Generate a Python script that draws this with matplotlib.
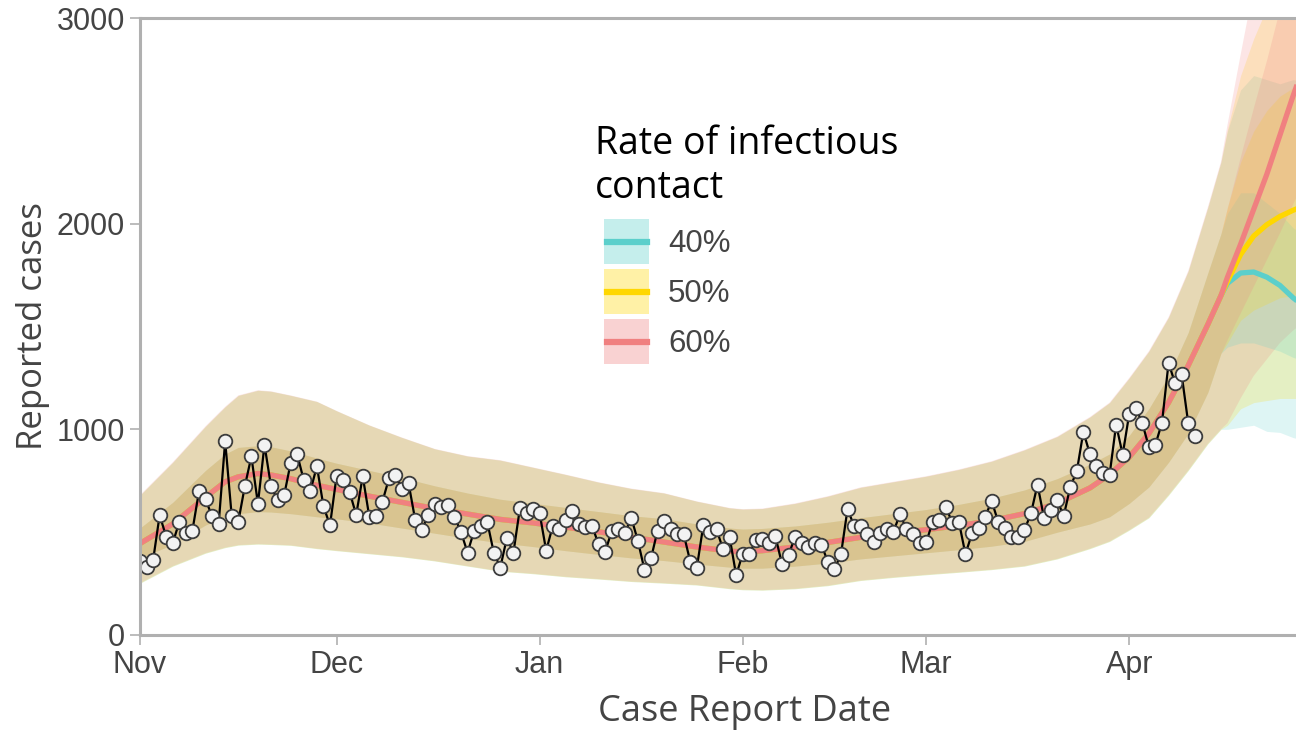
import numpy as np
import matplotlib
matplotlib.use('Agg')
import matplotlib.pyplot as plt
import matplotlib.dates as mdates
from matplotlib.patches import Rectangle
from matplotlib.lines import Line2D

plt.rcParams['font.family'] = ['Liberation Sans', 'DejaVu Sans']

# daily reported cases, starting Nov 1
start = np.datetime64('2020-11-01')
cases = [360, 332, 364, 583, 477, 447, 550, 494, 508, 698,
         659, 578, 538, 943, 578, 550, 723, 868, 638, 925,
         723, 654, 679, 837, 878, 752, 699, 821, 627, 533,
         772, 755, 695, 584, 772, 575, 579, 648, 761, 779,
         708, 737, 561, 510, 582, 636, 621, 634, 575, 500,
         401, 506, 530, 551, 401, 328, 472, 400, 618, 592,
         615, 592, 410, 530, 515, 561, 602, 542, 526, 531,
         441, 404, 505, 516, 494, 569, 458, 318, 372, 508,
         554, 515, 492, 489, 356, 328, 536, 499, 514, 417,
         476, 291, 395, 395, 461, 466, 445, 479, 344, 390,
         477, 446, 429, 448, 440, 356, 320, 392, 612, 531,
         531, 490, 450, 498, 515, 502, 587, 515, 490, 445,
         450, 550, 561, 623, 546, 550, 393, 494, 522, 574,
         652, 550, 522, 477, 477, 510, 591, 731, 568, 610,
         655, 579, 720, 796, 988, 880, 821, 788, 778, 1023,
         877, 1075, 1105, 1030, 914, 926, 1032, 1322, 1225, 1267,
         1032, 967]

# model fit (shared by all scenarios), days after Nov 1
fit_day = [0, 5, 10, 13, 15, 18, 20, 23, 27, 30, 35, 40, 45, 50, 55, 60, 65, 70, 75, 80,
           85, 90, 92, 95, 100, 105, 110, 115, 120, 125, 130, 135, 140, 145, 148, 151,
           154, 157, 160, 163, 165]
fit_med = [445, 540, 670, 745, 769, 785, 778, 760, 728, 708, 675, 645, 615, 588, 562, 545,
           524, 502, 476, 452, 428, 408, 404, 410, 428, 450, 475, 495, 512, 532, 556, 590,
           640, 715, 780, 865, 980, 1130, 1310, 1510, 1650]
fit_hi50 = [520, 645, 800, 880, 912, 920, 915, 895, 860, 835, 800, 765, 725, 690, 660, 640,
            620, 600, 580, 565, 540, 520, 515, 518, 530, 548, 570, 590, 610, 635, 665, 705,
            760, 830, 880, 970, 1100, 1260, 1470, 1760, 1950]
fit_lo50 = [375, 440, 535, 575, 590, 600, 598, 590, 575, 565, 545, 520, 495, 470, 448, 430,
            410, 392, 375, 362, 345, 330, 325, 325, 335, 350, 370, 385, 400, 415, 432, 455,
            500, 540, 575, 640, 720, 840, 980, 1180, 1370]
fit_hi95 = [680, 840, 1015, 1110, 1165, 1190, 1185, 1165, 1135, 1090, 1020, 960, 905, 870,
            850, 815, 780, 743, 712, 690, 650, 618, 612, 615, 640, 675, 718, 745, 772, 805,
            845, 900, 965, 1060, 1130, 1250, 1380, 1545, 1770, 2080, 2300]
fit_lo95 = [252, 335, 398, 425, 437, 442, 440, 436, 420, 410, 395, 380, 360, 335, 310, 298,
            283, 272, 260, 252, 243, 225, 220, 218, 225, 240, 265, 280, 293, 305, 318, 335,
            370, 420, 455, 510, 570, 680, 800, 930, 1000]

# projections by rate of infectious contact
proj_day = [166, 168, 170, 172, 174, 176, 178]
teal_med = [1710, 1760, 1765, 1740, 1700, 1640, 1590]
teal_hi50 = [2050, 2150, 2150, 2100, 2050, 1980, 1940]
teal_lo50 = [1400, 1420, 1420, 1400, 1380, 1350, 1330]
teal_hi95 = [2450, 2650, 2720, 2700, 2680, 2700, 2690]
teal_lo95 = [1000, 1010, 1020, 990, 985, 960, 945]

yellow_med = [1720, 1850, 1940, 1995, 2035, 2065, 2090]
yellow_hi50 = [2080, 2300, 2450, 2550, 2620, 2660, 2690]
yellow_lo50 = [1420, 1530, 1580, 1610, 1640, 1650, 1665]
yellow_hi95 = [2460, 2720, 2900, 3050, 3200, 3300, 3380]
yellow_lo95 = [1020, 1100, 1130, 1140, 1150, 1150, 1150]

pink_med = [1740, 1900, 2070, 2240, 2430, 2620, 2800]
pink_hi50 = [2080, 2330, 2570, 2800, 3050, 3300, 3520]
pink_lo50 = [1440, 1570, 1700, 1830, 1960, 2100, 2230]
pink_hi95 = [2480, 2820, 3150, 3500, 3850, 4200, 4500]
pink_lo95 = [1030, 1150, 1260, 1340, 1420, 1480, 1530]

labels = ['40%', '50%', '60%']
colors = ['#5BCFCB', '#FFD700', '#F08080']
proj = [
    (teal_med, teal_lo50, teal_hi50, teal_lo95, teal_hi95),
    (yellow_med, yellow_lo50, yellow_hi50, yellow_lo95, yellow_hi95),
    (pink_med, pink_lo50, pink_hi50, pink_lo95, pink_hi95),
]
months = ['2020-11-01', '2020-12-01', '2021-01-01', '2021-02-01', '2021-03-01', '2021-04-01']


def to_dates(days):
    return start + np.array(days).astype('timedelta64[D]')


days = to_dates(fit_day + proj_day)
fit = (fit_med, fit_lo50, fit_hi50, fit_lo95, fit_hi95)

W, H = 1296, 733
fig = plt.figure(figsize=(W / 100, H / 100), dpi=100)
# the plot panel runs past the right edge of the picture
ax = fig.add_axes([140 / W, 98 / H, 1210 / W, 617 / H])

# outer bands first, then inner bands, then medians
for c, p in zip(colors, proj):
    ax.fill_between(days, fit[3] + p[3], fit[4] + p[4], color=c, alpha=0.2, lw=0)
for c, p in zip(colors, proj):
    ax.fill_between(days, fit[1] + p[1], fit[2] + p[2], color=c, alpha=0.2, lw=0)
for c, p in zip(colors, proj):
    ax.plot(days, fit[0] + p[0], color=c, lw=3.8, solid_capstyle='butt')

ax.plot(to_dates(range(len(cases))), cases, '-', color='black', lw=1.6,
        marker='o', ms=9.8, mfc='#F2F2F2', mec='#3C3C3C', mew=1.3)

x0 = mdates.date2num(start)
ax.set_xlim(x0, x0 + 184.7)
ax.set_ylim(0, 3000)
ax.set_yticks([0, 1000, 2000, 3000])
ax.set_xticks(np.array(months, dtype='datetime64[D]'))
ax.xaxis.set_major_formatter(mdates.DateFormatter('%b'))

ax.tick_params(axis='both', color='#B0B0B0', labelcolor='#444444', labelsize=22,
               length=7, width=1.2, pad=4)
for s in ['left', 'top', 'bottom']:
    ax.spines[s].set_color('#B0B0B0')
    ax.spines[s].set_linewidth(2.2)
ax.spines['right'].set_visible(False)

ax.set_xlabel('Case Report Date', family='Open Sans', fontsize=26, color='#444444', labelpad=10)
ax.set_ylabel('Reported cases', family='Open Sans', fontsize=25, color='#444444', labelpad=4.5)

# legend, laid out by hand in figure pixels
fig.text(595 / W, 1 - 125 / H, 'Rate of infectious\ncontact', family='Open Sans',
         fontsize=27, color='black', va='top')
for i, (c, lab) in enumerate(zip(colors, labels)):
    top = 219 + 50 * i
    mid = 1 - (top + 22.5) / H
    fig.add_artist(Rectangle((604 / W, 1 - (top + 45) / H), 45 / W, 45 / H,
                             transform=fig.transFigure, facecolor=c, alpha=0.35,
                             edgecolor='none'))
    fig.add_artist(Line2D([607 / W, 647 / W], [mid, mid], transform=fig.transFigure,
                          color=c, lw=4.5))
    fig.text(668 / W, mid - 2.5 / H, lab, fontsize=22.5, color='#444444', va='center')

fig.savefig('out.png', dpi=100)
